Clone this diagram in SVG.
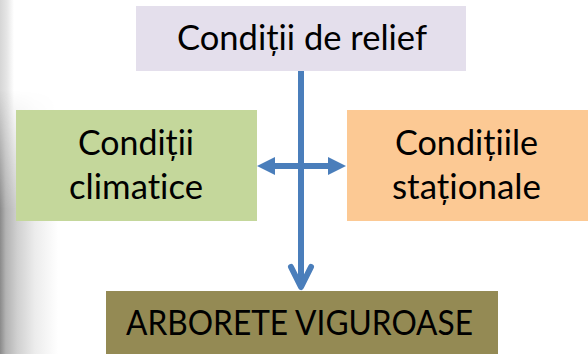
<svg xmlns="http://www.w3.org/2000/svg" width="588" height="354" viewBox="0 0 588 354">
  <style>
    .lbl { font-family: Lato, "Liberation Sans", sans-serif; font-size: 34px; fill: #000; text-anchor: middle; font-variant-ligatures: none; font-feature-settings: "liga" 0, "clig" 0; }
    .conn { stroke: #4A7EBB; stroke-width: 6; fill: none; }
  </style>
  <defs>
    <linearGradient id="edgeTop" x1="0" y1="0" x2="1" y2="0">
      <stop offset="0" stop-color="#d6d6d6"/>
      <stop offset="0.5" stop-color="#e6e6e6"/>
      <stop offset="1" stop-color="#ffffff"/>
    </linearGradient>
    <linearGradient id="edgeBot" x1="0" y1="0" x2="1" y2="0">
      <stop offset="0" stop-color="#8a8a8a"/>
      <stop offset="0.1" stop-color="#b2b2b2"/>
      <stop offset="0.3" stop-color="#d0d0d0"/>
      <stop offset="0.6" stop-color="#ececec"/>
      <stop offset="1" stop-color="#ffffff"/>
    </linearGradient>
    <linearGradient id="fadeV" x1="0" y1="0" x2="0" y2="1">
      <stop offset="0" stop-color="#fff" stop-opacity="0"/>
      <stop offset="0.45" stop-color="#fff" stop-opacity="1"/>
      <stop offset="1" stop-color="#fff" stop-opacity="1"/>
    </linearGradient>
    <mask id="fadeMask" maskUnits="userSpaceOnUse" x="0" y="90" width="60" height="264">
      <rect x="0" y="90" width="60" height="264" fill="url(#fadeV)"/>
    </mask>
    <marker id="tri" markerUnits="userSpaceOnUse" viewBox="0 0 18 18" refX="12" refY="9" markerWidth="18" markerHeight="18" orient="auto-start-reverse">
      <path d="M0,0 L18,9 L0,18 Z" fill="#4A7EBB"/>
    </marker>
    <marker id="vee" markerUnits="userSpaceOnUse" viewBox="-28 -16 32 32" refX="0" refY="0" markerWidth="32" markerHeight="32" orient="auto" overflow="visible">
      <path d="M-20,-10 L0,0 L-20,10" fill="none" stroke="#4A7EBB" stroke-width="6" stroke-linecap="round" stroke-linejoin="round"/>
    </marker>
  </defs>

  <g id="background">
    <rect x="0" y="0" width="588" height="354" fill="#ffffff"/>
    <rect x="0" y="0" width="14" height="354" fill="url(#edgeTop)"/>
    <rect x="0" y="90" width="58" height="264" fill="url(#edgeBot)" mask="url(#fadeMask)"/>
  </g>

  <g id="node-relief">
    <rect x="136" y="6" width="330" height="65" fill="#E4DFEC"/>
    <text class="lbl" x="302" y="50" textLength="250" lengthAdjust="spacingAndGlyphs">Condiții de relief</text>
  </g>

  <g id="node-climatice">
    <rect x="16" y="110" width="241" height="111" fill="#C4D79B"/>
    <text class="lbl" x="136" y="155" textLength="116" lengthAdjust="spacingAndGlyphs">Condiții</text>
    <text class="lbl" x="136" y="199" textLength="134" lengthAdjust="spacingAndGlyphs">climatice</text>
  </g>

  <g id="node-stationale">
    <rect x="347" y="110" width="241" height="111" fill="#FCC994"/>
    <text class="lbl" x="466.5" y="155" textLength="143" lengthAdjust="spacingAndGlyphs">Condițiile</text>
    <text class="lbl" x="466.5" y="199" textLength="149" lengthAdjust="spacingAndGlyphs">staționale</text>
  </g>

  <g id="node-arborete">
    <rect x="106" y="291" width="392" height="63" fill="#948A54"/>
    <text class="lbl" x="299.5" y="335" textLength="347" lengthAdjust="spacingAndGlyphs">ARBORETE VIGUROASE</text>
  </g>

  <g id="connectors">
    <line class="conn" x1="301" y1="71" x2="301" y2="287" marker-end="url(#vee)"/>
    <line class="conn" x1="263" y1="166" x2="340" y2="166" marker-start="url(#tri)" marker-end="url(#tri)"/>
  </g>
</svg>
